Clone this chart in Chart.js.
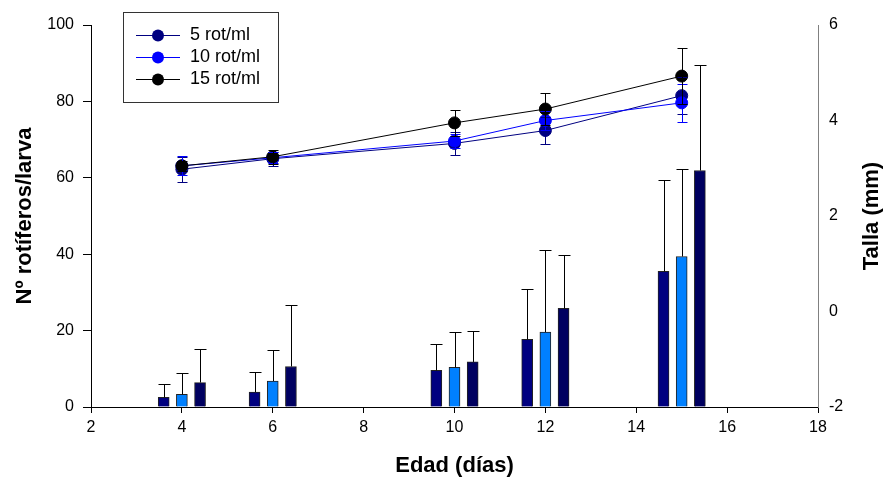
<!DOCTYPE html>
<html>
<head>
<meta charset="utf-8">
<script src="https://cdn.jsdelivr.net/npm/chart.js@4.4.1/dist/chart.umd.min.js"></script>
<style>
  body { margin: 0; background: #fff; }
  canvas { display: block; }
</style>
</head>
<body>
<canvas id="chart" width="883" height="477"></canvas>
<script>
// Edad (dias) de muestreo
const days = [4, 6, 10, 12, 15];
const seriesNames = ["5 rot/ml", "10 rot/ml", "15 rot/ml"];

// Nº rotiferos/larva (barras) y su desviacion
const bar5 = [2.5, 3.9, 9.6, 17.7, 35.5];
const bar5Err = [3.4, 5.2, 6.8, 13.1, 24.0];
const bar10 = [3.3, 6.8, 10.4, 19.6, 39.4];
const bar10Err = [5.5, 8.0, 9.3, 21.6, 23.0];
const bar15 = [6.4, 10.6, 11.8, 25.8, 61.9];
const bar15Err = [8.7, 16.0, 8.0, 13.9, 27.7];

// Talla (mm) (lineas) y su desviacion
const talla5 = [2.98, 3.20, 3.52, 3.79, 4.52];
const talla5Err = [0.26, 0.15, 0.24, 0.29, 0.39];
const talla10 = [3.05, 3.22, 3.57, 4.00, 4.37];
const talla10Err = [0.20, 0.12, 0.15, 0.20, 0.40];
const talla15 = [3.05, 3.24, 3.95, 4.24, 4.93];
const talla15Err = [0.10, 0.15, 0.27, 0.33, 0.58];

// tick labels
const xTicks = [2, 4, 6, 8, 10, 12, 14, 16, 18];
const yLeftTicks = [0, 20, 40, 60, 80, 100];
const yRightTicks = [-2, 0, 2, 4, 6];

const barColors = ["#000080", "#0080ff", "#000060"];
const lineColors = ["#000080", "#0000ff", "#000000"];
const barShift = [-0.4, 0, 0.4];

const FONT = 'Arial, "Liberation Sans", sans-serif';
Chart.defaults.font.family = FONT;
Chart.defaults.color = "#000";

function pts(vals, shift) {
  return vals.map((v, i) => ({ x: days[i] + shift, y: v }));
}

function barSet(vals, errs, k) {
  return {
    type: "bar",
    label: seriesNames[k],
    data: pts(vals, barShift[k]),
    errors: errs,
    errorColor: "#000",
    backgroundColor: barColors[k],
    borderColor: "#222",
    borderWidth: 1,
    barThickness: 11,
    grouped: false,
    yAxisID: "y",
    order: 10
  };
}

function lineSet(vals, errs, k) {
  return {
    type: "line",
    label: seriesNames[k],
    data: pts(vals, 0),
    errors: errs,
    errorColor: lineColors[k],
    borderColor: lineColors[k],
    backgroundColor: lineColors[k],
    pointBackgroundColor: lineColors[k],
    pointBorderColor: lineColors[k],
    borderWidth: 1,
    pointRadius: 6,
    fill: false,
    tension: 0,
    yAxisID: "y1",
    order: 3 - k
  };
}

// error bars drawn with the scales
const errorBars = {
  id: "errorBars",
  afterDatasetsDraw(chart) {
    const ctx = chart.ctx;
    chart.data.datasets.forEach((ds, i) => {
      if (!ds.errors) return;
      const meta = chart.getDatasetMeta(i);
      const yScale = chart.scales[ds.yAxisID];
      const isBar = ds.type === "bar";
      const cap = isBar ? 6 : 5;
      ctx.save();
      ctx.strokeStyle = ds.errorColor;
      ctx.lineWidth = 1;
      meta.data.forEach((el, j) => {
        const v = ds.data[j].y;
        const e = ds.errors[j];
        const x = Math.round(el.x) + 0.5;
        const top = Math.round(yScale.getPixelForValue(v + e)) + 0.5;
        const bottom = isBar ? el.y : Math.round(yScale.getPixelForValue(v - e)) + 0.5;
        ctx.beginPath();
        ctx.moveTo(x, bottom);
        ctx.lineTo(x, top);
        ctx.moveTo(x - cap, top);
        ctx.lineTo(x + cap, top);
        if (!isBar) {
          ctx.moveTo(x - cap, bottom);
          ctx.lineTo(x + cap, bottom);
        }
        ctx.stroke();
      });
      ctx.restore();
    });
  }
};

// legend box and right axis title
const extras = {
  id: "extras",
  afterDraw(chart) {
    const ctx = chart.ctx;
    const area = chart.chartArea;
    ctx.save();
    ctx.strokeStyle = "#333";
    ctx.lineWidth = 1;
    ctx.strokeRect(123.5, 12.5, 155, 90);
    ctx.font = "18px " + FONT;
    ctx.textBaseline = "middle";
    ctx.fillStyle = "#000";
    seriesNames.forEach((name, k) => {
      const y = 35 + k * 22;
      ctx.strokeStyle = lineColors[k];
      ctx.beginPath();
      ctx.moveTo(136, y + 0.5);
      ctx.lineTo(180, y + 0.5);
      ctx.stroke();
      ctx.fillStyle = lineColors[k];
      ctx.beginPath();
      ctx.arc(158, y + 0.5, 6, 0, Math.PI * 2);
      ctx.fill();
      ctx.fillStyle = "#000";
      ctx.fillText(name, 190, y);
    });

    ctx.translate(872, (area.top + area.bottom) / 2);
    ctx.rotate(-Math.PI / 2);
    ctx.font = "bold 22px " + FONT;
    ctx.textAlign = "center";
    ctx.fillText("Talla (mm)", 0, 0);
    ctx.restore();
  }
};

new Chart(document.getElementById("chart"), {
  type: "bar",
  data: {
    datasets: [
      lineSet(talla5, talla5Err, 0),
      lineSet(talla10, talla10Err, 1),
      lineSet(talla15, talla15Err, 2),
      barSet(bar5, bar5Err, 0),
      barSet(bar10, bar10Err, 1),
      barSet(bar15, bar15Err, 2)
    ]
  },
  options: {
    responsive: false,
    animation: false,
    layout: { padding: { top: 25, left: 0, right: 0, bottom: 0 } },
    plugins: {
      legend: { display: false },
      tooltip: { enabled: false }
    },
    scales: {
      x: {
        type: "linear",
        min: xTicks[0],
        max: xTicks[xTicks.length - 1],
        offset: false,
        afterBuildTicks: s => { s.ticks = xTicks.map(v => ({ value: v })); },
        afterFit: s => { s.height = 70; },
        grid: { drawOnChartArea: false, offset: false, tickLength: 6, color: "#000" },
        border: { display: true, color: "#000" },
        ticks: { font: { size: 16 }, padding: 5, color: "#000" },
        title: {
          display: true,
          text: "Edad (días)",
          font: { size: 22, weight: "bold" },
          padding: { top: 0, bottom: -2 }
        }
      },
      y: {
        position: "left",
        min: 0,
        max: 100,
        afterBuildTicks: s => { s.ticks = yLeftTicks.map(v => ({ value: v })); },
        afterFit: s => { s.width = 91; },
        grid: { drawOnChartArea: false, tickLength: 8, color: "#000" },
        border: { display: true, color: "#000" },
        ticks: { font: { size: 16 }, padding: 9, color: "#000" },
        title: {
          display: true,
          text: "Nº rotíferos/larva",
          font: { size: 22, weight: "bold" },
          padding: { top: 12, bottom: 0 }
        }
      },
      y1: {
        position: "right",
        min: -2,
        max: 6,
        afterBuildTicks: s => { s.ticks = yRightTicks.map(v => ({ value: v })); },
        afterFit: s => { s.width = 65; },
        grid: { drawOnChartArea: false, drawTicks: false },
        border: { display: true, color: "#808080" },
        ticks: { font: { size: 16 }, padding: 11, color: "#000" }
      }
    }
  },
  plugins: [errorBars, extras]
});
</script>
</body>
</html>
